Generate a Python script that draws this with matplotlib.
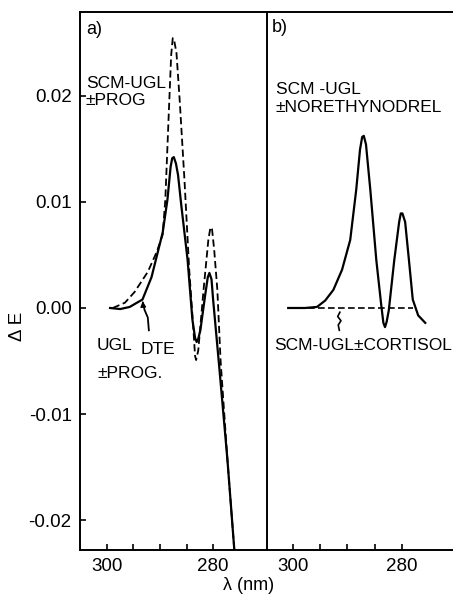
import numpy as np
import matplotlib
matplotlib.use("Agg")
import matplotlib.pyplot as plt

plt.rcParams['font.family'] = ['Liberation Sans', 'DejaVu Sans']

# Panel a: UGL DTE +/- PROG (solid) and SCM-UGL +/- PROG (dashed)
wl_a_solid = [299.4, 297.5, 295.7, 293.3, 291.6, 289.5, 288.6, 288.0, 287.7, 287.4, 287.0, 286.6, 286.0,
              284.8, 283.9, 283.4, 283.1, 282.8, 282.4, 281.5, 281.0, 280.7, 280.3, 280.0, 278.8, 277.3,
              276.0, 275.6]
de_a_solid = [0.0, -0.0001, 0.0001, 0.0008, 0.0029, 0.0071, 0.0102, 0.0133, 0.0141, 0.0142, 0.0136, 0.0125, 0.0097,
              0.0045, -0.0011, -0.0028, -0.0032, -0.0029, -0.0021, 0.0012, 0.0029, 0.0033, 0.0027, 0.0008, -0.0058,
              -0.0143, -0.0228, -0.025]

wl_a_dash = [298.9, 296.6, 294.8, 292.3, 290.6, 289.5, 289.0, 288.4, 287.9, 287.6, 287.3, 286.9, 286.3,
             285.4, 284.5, 283.7, 283.4, 283.2, 282.8, 281.8, 280.9, 280.5, 280.2, 279.8, 279.2, 278.6,
             277.3, 276.0, 275.6]
de_a_dash = [0.0, 0.0005, 0.0015, 0.0034, 0.0053, 0.0069, 0.0102, 0.0177, 0.0238, 0.0254, 0.0251, 0.0240, 0.0196,
             0.0121, 0.0036, -0.0021, -0.0045, -0.0049, -0.0040, 0.0017, 0.0064, 0.0076, 0.0074, 0.0055, 0.0017,
             -0.0049, -0.0143, -0.0228, -0.025]

# Panel b: SCM-UGL +/- NORETHYNODREL (solid) and SCM-UGL +/- CORTISOL (dashed)
wl_b_solid = [300.9, 297.8, 295.6, 294.1, 292.6, 291.0, 289.5, 288.4, 287.7, 287.3, 287.0, 286.6, 285.8,
              284.7, 283.8, 283.4, 283.1, 282.8, 282.4, 281.4, 280.5, 280.2, 279.9, 279.4, 278.7, 278.0,
              277.0, 275.7]
de_b_solid = [0.0, 0.0, 0.0001, 0.0007, 0.0017, 0.0036, 0.0064, 0.0111, 0.0149, 0.0161, 0.0162, 0.0154, 0.0111,
              0.0045, 0.0003, -0.0014, -0.0018, -0.0013, -0.0002, 0.0045, 0.0081, 0.0089, 0.0089, 0.0081, 0.0045,
              0.0008, -0.0007, -0.0014]

wl_b_dash = [300.9, 278.0]
de_b_dash = [0.0, 0.0]

yticks = [0.02, 0.01, 0.0, -0.01, -0.02]
ytick_labels = ["0.02", "0.01", "0.00", "-0.01", "-0.02"]
xticks = [300, 295, 290, 285, 280]
xtick_labels = ["300", "", "", "", "280"]

W, H = 453, 595
fig = plt.figure(figsize=(W / 100, H / 100), dpi=100)


def px(x, y):
    return x / W, 1 - y / H


ax_a = fig.add_axes([80 / W, 1 - 550 / H, 187 / W, 538 / H])
ax_b = fig.add_axes([267 / W, 1 - 550 / H, 186 / W, 538 / H])

ylim = (-0.02278, 0.02786)
for ax, xl in [(ax_a, (305.07, 269.85)), (ax_b, (304.8, 270.6))]:
    ax.set_xlim(*xl)
    ax.set_ylim(*ylim)
    ax.set_xticks(xticks)
    ax.set_xticklabels(xtick_labels, fontsize=13.5)
    ax.tick_params(axis='both', direction='in', length=4, width=1.2, pad=6)
    for s in ax.spines.values():
        s.set_linewidth(1.4)

ax_a.set_yticks(yticks)
ax_a.set_yticklabels(ytick_labels, fontsize=13.5)
ax_b.set_yticks([])
ax_b.spines['right'].set_visible(False)
ax_a.spines['right'].set_visible(False)

ax_a.plot(wl_a_solid, de_a_solid, color='black', lw=1.6, solid_joinstyle='round')
ax_a.plot(wl_a_dash, de_a_dash, color='black', lw=1.3, dashes=(4, 2))
ax_b.plot(wl_b_solid, de_b_solid, color='black', lw=1.6, solid_joinstyle='round')
ax_b.plot(wl_b_dash, de_b_dash, color='black', lw=1.2, dashes=(4, 2))

# arrow pointing to the solid curve in panel a
arr_x = [292.1, 292.3, 292.9, 293.2]
arr_y = [-0.0021, -0.0009, -0.0002, 0.0004]
ax_a.plot(arr_x, arr_y, color='black', lw=1.3)
ax_a.annotate('', xy=(293.3, 0.0009), xytext=(293.2, 0.0003),
              arrowprops=dict(arrowstyle='-|>', color='black', lw=1.0, mutation_scale=8))

# squiggle marker in panel b
sq_x = [291.4, 291.8, 291.2, 291.7, 291.5]
sq_y = [-0.0004, -0.0008, -0.0012, -0.0016, -0.0021]
ax_b.plot(sq_x, sq_y, color='black', lw=1.2)

# texts
fs = 12.5
fig.text(*px(86, 30), "a)", fontsize=13, va='center', ha='left')
fig.text(*px(272, 27), "b)", fontsize=13, va='center', ha='left')
fig.text(*px(86, 83), "SCM-UGL", fontsize=fs, va='center', ha='left')
fig.text(*px(86, 100), "±PROG", fontsize=fs, va='center', ha='left')
fig.text(*px(97, 345), "UGL", fontsize=fs, va='center', ha='left')
fig.text(*px(141, 350), "DTE", fontsize=fs, va='center', ha='left')
fig.text(*px(97, 373), "±PROG.", fontsize=fs, va='center', ha='left')
fig.text(*px(276, 90), "SCM -UGL", fontsize=fs, va='center', ha='left')
fig.text(*px(276, 107), "±NORETHYNODREL", fontsize=fs, va='center', ha='left')
fig.text(*px(274, 346), "SCM-UGL±CORTISOL", fontsize=fs, va='center', ha='left')

fig.text(*px(17, 326), "Δ E", fontsize=13.5, rotation=90, va='center', ha='center')
fig.text(*px(249, 585), "λ (nm)", fontsize=13, va='center', ha='center')

fig.savefig("out.png", dpi=100)
